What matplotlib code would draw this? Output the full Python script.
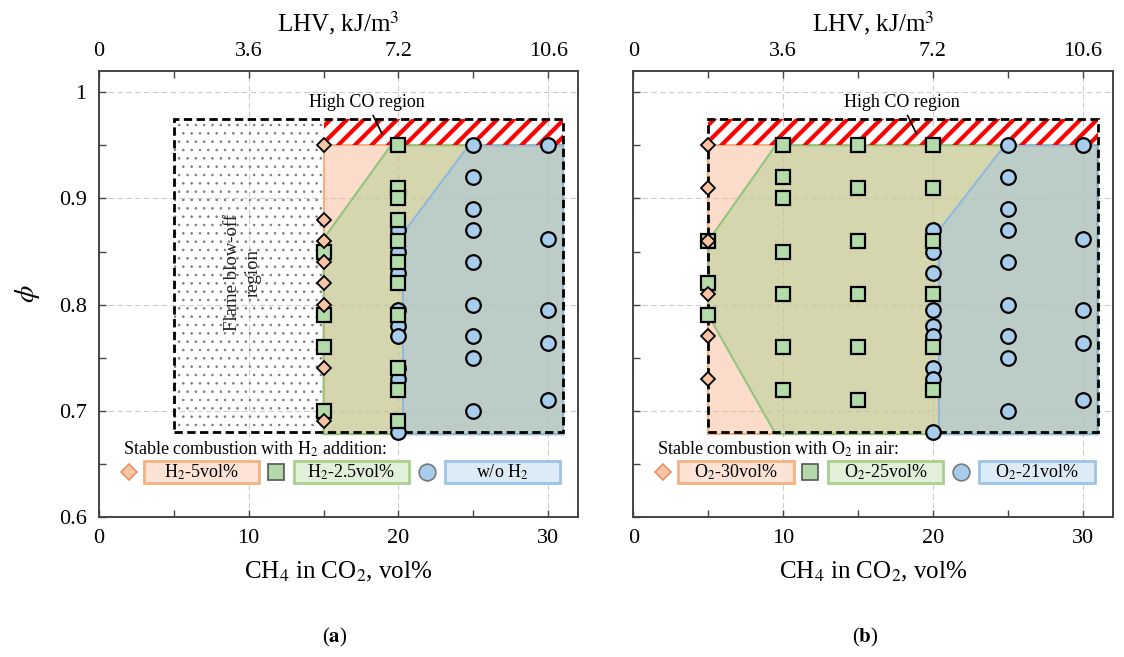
import matplotlib
matplotlib.use('Agg')
import matplotlib.pyplot as plt
from matplotlib.patches import Rectangle, Polygon

plt.rcParams['font.family'] = ['Liberation Serif', 'DejaVu Serif']
plt.rcParams['mathtext.fontset'] = 'stix'

# ---------------- data ----------------
# (a) H2 addition
a_h2_5_x = [15, 15, 15, 15, 15, 15, 15, 15]
a_h2_5_y = [0.95, 0.88, 0.86, 0.84, 0.82, 0.80, 0.74, 0.69]
a_h2_25_x = [15, 15, 15, 15, 20, 20, 20, 20, 20, 20, 20, 20, 20, 20, 20]
a_h2_25_y = [0.85, 0.79, 0.76, 0.70, 0.95, 0.91, 0.90, 0.88, 0.86, 0.84, 0.82, 0.79, 0.74, 0.72, 0.69]

# baseline (w/o H2 = O2-21vol%), same in both panels
base_x = [20, 20, 20, 20, 20, 20, 20, 20, 20,
          25, 25, 25, 25, 25, 25, 25, 25, 25,
          30, 30, 30, 30, 30]
base_y = [0.87, 0.85, 0.83, 0.795, 0.78, 0.77, 0.74, 0.73, 0.68,
          0.95, 0.92, 0.89, 0.87, 0.84, 0.80, 0.77, 0.75, 0.70,
          0.95, 0.862, 0.795, 0.764, 0.71]

# (b) O2 enrichment
b_o2_30_x = [5, 5, 5, 5, 5, 5]
b_o2_30_y = [0.95, 0.91, 0.86, 0.81, 0.77, 0.73]
b_o2_25_x = [5, 5, 5, 10, 10, 10, 10, 10, 10, 10, 15, 15, 15, 15, 15, 15, 20, 20, 20, 20, 20, 20]
b_o2_25_y = [0.86, 0.82, 0.79, 0.95, 0.92, 0.90, 0.85, 0.81, 0.76, 0.72,
             0.95, 0.91, 0.86, 0.81, 0.76, 0.71, 0.95, 0.91, 0.86, 0.81, 0.76, 0.72]

# stable-combustion region outlines
a_orange_x = [15, 15, 31, 31]
a_orange_y = [0.678, 0.95, 0.95, 0.678]
a_green_x = [15, 15, 19.5, 31, 31]
a_green_y = [0.678, 0.862, 0.95, 0.95, 0.678]
a_blue_x = [20.3, 20.3, 24.7, 31, 31]
a_blue_y = [0.678, 0.867, 0.95, 0.95, 0.678]

b_orange_x = [5, 5, 31, 31]
b_orange_y = [0.678, 0.95, 0.95, 0.678]
b_green_x = [5, 5, 9.5, 31, 31, 9.5]
b_green_y = [0.79, 0.86, 0.95, 0.95, 0.678, 0.678]
b_blue_x = [20.4, 20.4, 24.8, 31, 31]
b_blue_y = [0.678, 0.87, 0.95, 0.95, 0.678]

top_ticks = [0, 10, 20, 30]
top_labels = ['0', '3.6', '7.2', '10.6']

ORANGE = '#f8b08a'
GREEN = '#a9d18e'
BLUE = '#9dc3e6'


def hatch_rect(ax, x0, y0, w, h, hatch, color, hlw, z):
    plt.rcParams['hatch.linewidth'] = hlw
    r = Rectangle((x0, y0), w, h, facecolor='none', edgecolor=color, lw=0,
                  hatch=hatch, zorder=z)
    if hasattr(r, 'set_hatch_linewidth'):
        r.set_hatch_linewidth(hlw)
    ax.add_patch(r)


def panel(ax, regions, diam, sq, title_txt, labels, co_x0, blowoff, show_ylab):
    # filled regions
    for (px, py), c, ec in zip(regions, [ORANGE, GREEN, BLUE], ['#f4b183', '#93c47d', '#8fb8de']):
        ax.add_patch(Polygon(list(zip(px, py)), closed=True, facecolor=c, alpha=0.45,
                             edgecolor='none', zorder=1))
        ax.add_patch(Polygon(list(zip(px, py)), closed=True, facecolor='none',
                             edgecolor=ec, lw=1.5, zorder=1.2))

    if blowoff:
        hatch_rect(ax, 5, 0.68, 10, 0.295, '..', '#7a7a7a', 0.6, 1.1)
        ax.text(9.6, 0.83, 'Flame blow-off\nregion', rotation=90, ha='center', va='center',
                fontsize=13.5, linespacing=1.3, color='#222222', zorder=3)

    hatch_rect(ax, co_x0, 0.95, 31 - co_x0, 0.025, '//', '#ff0000', 3.0, 2)
    ax.add_patch(Rectangle((5, 0.68), 26, 0.295, facecolor='none', edgecolor='black',
                           lw=2, ls=(0, (3, 1.6)), zorder=4))
    ax.annotate('High CO region', xy=(18.9, 0.961), xytext=(17.9, 0.99),
                ha='center', va='center', fontsize=13,
                arrowprops=dict(arrowstyle='-', color='black', lw=1.2, shrinkA=1, shrinkB=0),
                zorder=6)

    # markers
    ax.plot(base_x, base_y, 'o', ms=10.5, mfc='#a8cdec', mec='black', mew=1.6, zorder=5)
    ax.plot(sq[0], sq[1], 's', ms=9.8, mfc='#b3dbaa', mec='black', mew=1.6, zorder=6)
    ax.plot(diam[0], diam[1], 'D', ms=7.5, mfc='#f8c4a4', mec='black', mew=1.3, zorder=7)

    # custom legend
    ax.text(1.6, 0.664, title_txt, ha='left', va='center', fontsize=13)
    ly = 0.642
    ax.plot([2.0], [ly], 'D', ms=8, mfc='#f8c4a4', mec='#e8906a', mew=1.2)
    ax.plot([11.8], [ly], 's', ms=11, mfc='#b3dbaa', mec='#555555', mew=1.2)
    ax.plot([21.9], [ly], 'o', ms=12, mfc='#a8cdec', mec='#777777', mew=1.2)
    for x0, fc, ec, lab in zip([3.0, 13.0, 23.1], ['#fde3d5', '#e2f0d9', '#ddebf7'],
                               ['#f4b183', '#a9d18e', '#9dc3e6'], labels):
        ax.add_patch(Rectangle((x0, 0.632), 7.7, 0.021, facecolor=fc, edgecolor=ec, lw=2))
        ax.text(x0 + 3.85, 0.6425, lab, ha='center', va='center', fontsize=13)

    ax.set_xlim(0, 32)
    ax.set_ylim(0.6, 1.02)
    ax.set_xticks([0, 10, 20, 30])
    ax.set_xticks([5, 15, 25], minor=True)
    ax.set_yticks([0.6, 0.7, 0.8, 0.9, 1.0])
    ax.set_yticklabels(['0.6', '0.7', '0.8', '0.9', '1'])
    ax.set_yticks([0.65, 0.75, 0.85, 0.95], minor=True)
    ax.tick_params(which='both', direction='in', length=5, width=1, color='#444444',
                   labelsize=16, pad=9)
    ax.grid(True, which='major', ls=(0, (5, 3)), color='#cccccc', lw=0.8)
    ax.set_axisbelow(True)
    for s in ax.spines.values():
        s.set_color('#444444')
        s.set_linewidth(1.2)
    ax.set_xlabel('CH$_4$ in CO$_2$, vol%', fontsize=18, labelpad=8)
    if show_ylab:
        ax.set_ylabel(r'$\phi$', fontsize=20, labelpad=12)
    else:
        ax.tick_params(axis='y', labelleft=False)

    top = ax.twiny()
    top.set_xlim(0, 32)
    top.set_xticks(top_ticks)
    top.set_xticklabels(top_labels)
    top.set_xticks([5, 15, 25], minor=True)
    top.tick_params(which='both', direction='in', length=5, width=1, color='#444444',
                    labelsize=16, pad=7)
    top.set_xlabel('LHV, kJ/m$^3$', fontsize=18, labelpad=8)
    for s in top.spines.values():
        s.set_color('#444444')
        s.set_linewidth(1.2)


fig = plt.figure(figsize=(11.24, 6.57), dpi=100)
ax1 = fig.add_axes([0.0881, 0.2131, 0.4262, 0.6788])
ax2 = fig.add_axes([0.5636, 0.2131, 0.4262, 0.6788])

panel(ax1, [(a_orange_x, a_orange_y), (a_green_x, a_green_y), (a_blue_x, a_blue_y)],
      (a_h2_5_x, a_h2_5_y), (a_h2_25_x, a_h2_25_y),
      'Stable combustion with H$_2$ addition:',
      ['H$_2$-5vol%', 'H$_2$-2.5vol%', 'w/o H$_2$'], 15, True, True)
panel(ax2, [(b_orange_x, b_orange_y), (b_green_x, b_green_y), (b_blue_x, b_blue_y)],
      (b_o2_30_x, b_o2_30_y), (b_o2_25_x, b_o2_25_y),
      'Stable combustion with O$_2$ in air:',
      ['O$_2$-30vol%', 'O$_2$-25vol%', 'O$_2$-21vol%'], 5, False, False)

fig.text(0.298, 0.03, r'($\mathbf{a}$)', ha='center', va='center', fontsize=15)
fig.text(0.770, 0.03, r'($\mathbf{b}$)', ha='center', va='center', fontsize=15)

fig.savefig('out.png', dpi=100)
